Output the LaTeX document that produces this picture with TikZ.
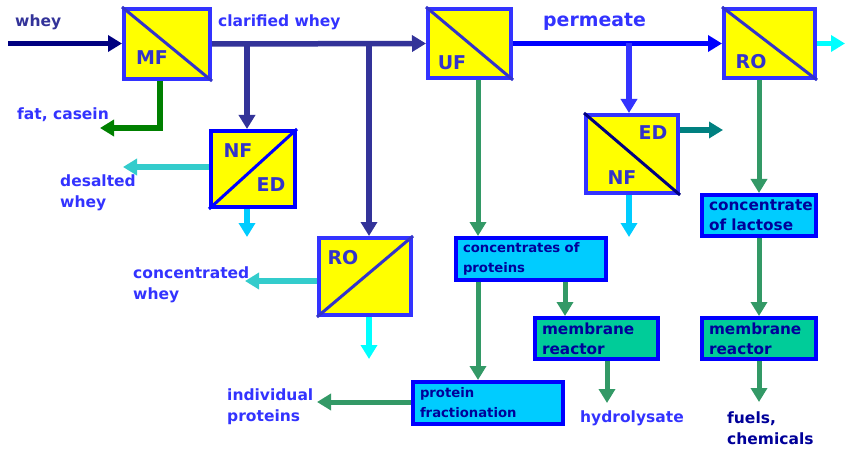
\documentclass[tikz,border=0pt]{standalone}
\usepackage{fontspec}
\setmainfont{DejaVu Sans}
\usetikzlibrary{arrows.meta}
\definecolor{navy}{HTML}{000080}
\definecolor{slate}{HTML}{333399}
\definecolor{dgreen}{HTML}{008000}
\definecolor{tealc}{HTML}{33CCCC}
\definecolor{skyb}{HTML}{00CCFF}
\definecolor{cyanc}{HTML}{00FFFF}
\definecolor{pblue}{HTML}{0000FF}
\definecolor{lblue}{HTML}{3333FF}
\definecolor{tealar}{HTML}{008080}
\definecolor{seag}{HTML}{339966}
\definecolor{ybox}{HTML}{FFFF00}
\definecolor{cbox}{HTML}{00CCFF}
\definecolor{gbox}{HTML}{00CC99}
\definecolor{txt}{HTML}{3333FF}
\definecolor{dtxt}{HTML}{000099}
\definecolor{flab}{HTML}{3333CC}
\begin{document}
\begin{tikzpicture}[x=1pt,y=-1pt,
  fbox/.style={draw=lblue,line width=4pt,fill=ybox,inner sep=0pt},
  colbox/.style={draw=pblue,line width=4pt,inner xsep=7pt,inner ysep=0pt,align=left,
    text=dtxt,font=\bfseries\fontsize{15.3}{20}\selectfont},
  diag/.style={draw=flab,line width=3pt},
  flabel/.style={text=flab,font=\bfseries\fontsize{19}{20}\selectfont,inner sep=0pt},
  lab/.style={text=txt,font=\bfseries\fontsize{15.5}{21}\selectfont,inner sep=0pt,anchor=west,align=left},
  ar/.style={line width=5.5pt,-{Triangle[length=14pt,width=16pt]}},
  ln/.style={line width=5.5pt}]
\useasboundingbox (0,0) rectangle (845,449);

% filter boxes
\node[fbox,minimum width=86pt,minimum height=70pt] (mf) at (167,44) {};
\node[fbox,draw=pblue,minimum width=84pt,minimum height=76pt] (nfed) at (253,169) {};
\node[fbox,minimum width=92pt,minimum height=77pt] (ro2) at (365,276.5) {};
\node[fbox,minimum width=83pt,minimum height=69pt] (uf) at (469.5,43.5) {};
\node[fbox,minimum width=92pt,minimum height=78pt] (ednf) at (632,154) {};
\node[fbox,minimum width=91pt,minimum height=69pt] (ro1) at (769.5,43.5) {};

\draw[diag] (mf.north west) -- (mf.south east);
\draw[diag,draw=pblue] (nfed.south west) -- (nfed.north east);
\draw[diag] (ro2.south west) -- (ro2.north east);
\draw[diag] (uf.north west) -- (uf.south east);
\draw[diag,draw=navy] (ednf.north west) -- (ednf.south east);
\draw[diag] (ro1.north west) -- (ro1.south east);

\node[flabel] (lmf) at (152,58) {MF};
\node[flabel] (lnf) at (238,151) {NF};
\node[flabel] (led) at (271,185) {ED};
\node[flabel] (lro2) at (343,258) {RO};
\node[flabel] (luf) at (452,63) {UF};
\node[flabel] (led2) at (653,133) {ED};
\node[flabel] (lnf2) at (622,178) {NF};
\node[flabel] (lro1) at (751,62) {RO};

% coloured boxes
\node[colbox,fill=cbox,minimum width=150pt,minimum height=42pt,text width=136pt,font=\bfseries\fontsize{13.2}{20}\selectfont] (cp) at (531,259) {concentrates of\\proteins};
\node[colbox,fill=gbox,minimum width=123pt,minimum height=41pt,text width=109pt] (mrl) at (596.5,338.5) {membrane\\reactor};
\node[colbox,fill=cbox,minimum width=150pt,minimum height=42pt,text width=136pt,font=\bfseries\fontsize{13.2}{20}\selectfont] (pf) at (488,403) {protein\\fractionation};
\node[colbox,fill=cbox,minimum width=114pt,minimum height=41pt,text width=100pt] (lac) at (759,215.5) {concentrate\\of lactose};
\node[colbox,fill=gbox,minimum width=114pt,minimum height=41pt,text width=100pt] (mrr) at (759,338.5) {membrane\\reactor};

% labels
\node[lab,text=slate] (twhey) at (15,22) {whey};
\node[lab] (tcw) at (218,22) {clarified whey};
\node[lab,font=\bfseries\fontsize{18.9}{21}\selectfont] (tperm) at (543,22) {permeate};
\node[lab] (tfat) at (17,115) {fat, casein};
\node[lab] (tdes) at (60,193) {desalted\\whey};
\node[lab] (tconc) at (133,285) {concentrated\\whey};
\node[lab] (tind) at (227,407) {individual\\proteins};
\node[lab] (thyd) at (580,418) {hydrolysate};
\node[lab,text=dtxt] (tfuel) at (727,428) {fuels,\\chemicals};

% coordinates
\coordinate (win) at (8,43.5);
\coordinate (b1) at (247,43.5);
\coordinate (b2) at (369,43.5);
\coordinate (b3) at (629,43.5);
\coordinate (fc) at (160,128);
\coordinate (fcend) at (100,128);
\coordinate (desend) at (123,167);
\coordinate (nfout) at (247,237);
\coordinate (concend) at (245,281);
\coordinate (roout) at (369,359);
\coordinate (edend) at (723,130);
\coordinate (ednfout) at (629,237);
\coordinate (roend) at (845,43.5);
\coordinate (fuelend) at (759,402);
\coordinate (hydend) at (607,403);
\coordinate (indend) at (317,402);
\coordinate (ufx) at (478,0);
\coordinate (cpx) at (565,0);

% connectors
\draw[ar,navy] (win) -- (win -| mf.west);
\draw[ar,slate] (mf.east) -- (uf.west);
\draw[ar,slate] (b1) -- (b1 |- nfed.north);
\draw[ar,slate] (b2) -- (b2 |- ro2.north);
\draw[ln,dgreen,-{Triangle[length=14pt,width=16pt]}] (fc |- mf.south) -- (fc) -- (fcend);
\draw[ar,tealc] (desend -| nfed.west) -- (desend);
\draw[ar,skyb] (nfout |- nfed.south) -- (nfout);
\draw[ar,tealc] (concend -| ro2.west) -- (concend);
\draw[ar,cyanc] (roout |- ro2.south) -- (roout);
\draw[ar,pblue] (uf.east) -- (ro1.west);
\draw[ar,lblue] (b3) -- (b3 |- ednf.north);
\draw[ar,tealar] (edend -| ednf.east) -- (edend);
\draw[ar,skyb] (ednfout |- ednf.south) -- (ednfout);
\draw[ar,cyanc] (ro1.east) -- (roend);
\draw[ar,seag,line width=5pt] (lac.north |- ro1.south) -- (lac.north);
\draw[ar,seag,line width=5pt] (lac.south) -- (mrr.north);
\draw[ar,seag,line width=5pt] (mrr.south) -- (fuelend);
\draw[ar,seag,line width=5pt] (ufx |- uf.south) -- (ufx |- cp.north);
\draw[ar,seag,line width=5pt] (ufx |- cp.south) -- (ufx |- pf.north);
\draw[ar,seag,line width=5pt] (cpx |- cp.south) -- (cpx |- mrl.north);
\draw[ar,seag,line width=5pt] (hydend |- mrl.south) -- (hydend);
\draw[ar,seag,line width=5pt] (indend -| pf.west) -- (indend);
\end{tikzpicture}
\end{document}
